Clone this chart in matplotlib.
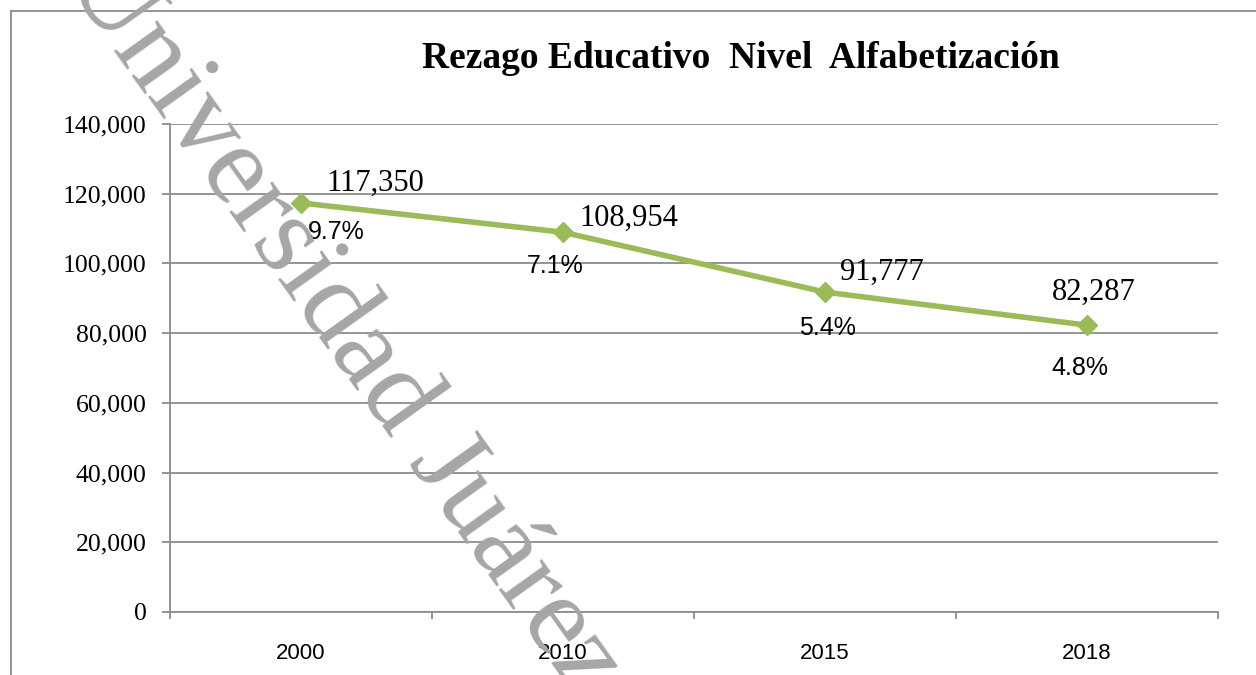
import numpy as np
import matplotlib.pyplot as plt
from matplotlib.lines import Line2D
from matplotlib.ticker import FuncFormatter, FixedLocator

# data
years = ['2000', '2010', '2015', '2018']
rezago = [117350, 108954, 91777, 82287]
pct_labels = ['9.7%', '7.1%', '5.4%', '4.8%']

# label offsets in pixels (x right, y down), hand placed like the original
value_offsets = [(74, -20), (66, -14), (57, -20), (7, -33)]
pct_offsets = [(35, 29), (-8, 34), (2, 36), (-7, 43)]

serif = 'Liberation Serif'
sans = 'Liberation Sans'
green = '#9BBB59'
grid_gray = '#8C8C8C'

fig = plt.figure(figsize=(12.56, 6.75), dpi=100)
ax = fig.add_axes([170 / 1256, 1 - 612 / 675, (1218 - 170) / 1256, (612 - 124) / 675])

x = np.arange(len(years))
ax.plot(x, rezago, color=green, linewidth=4, marker='D', markersize=10,
        markerfacecolor=green, markeredgecolor=green, zorder=4, clip_on=False)

px = 0.72  # pixels -> points at 100 dpi
for i, (v, p) in enumerate(zip(rezago, pct_labels)):
    dx, dy = value_offsets[i]
    ax.annotate(f'{v:,}', (x[i], v), xytext=(dx * px, -dy * px), textcoords='offset points',
                ha='center', va='center', fontsize=22, family=serif, zorder=5)
    dx, dy = pct_offsets[i]
    ax.annotate(p, (x[i], v), xytext=(dx * px, -dy * px), textcoords='offset points',
                ha='center', va='center', fontsize=18, family=sans, zorder=5)

# axes
ax.set_ylim(0, 140000)
ax.set_yticks(np.arange(0, 140001, 20000))
ax.yaxis.set_major_formatter(FuncFormatter(lambda v, _: f'{v:,.0f}'))
ax.set_xlim(-0.5, len(years) - 0.5)
ax.xaxis.set_major_locator(FixedLocator(np.arange(-0.5, len(years), 1.0)))
ax.xaxis.set_minor_locator(FixedLocator(x))
ax.set_xticklabels([], minor=False)
ax.set_xticklabels(years, minor=True)

ax.grid(axis='y', color=grid_gray, linewidth=1.3)
ax.set_axisbelow(True)
for s in ['top', 'right']:
    ax.spines[s].set_visible(False)
for s in ['left', 'bottom']:
    ax.spines[s].set_color(grid_gray)
    ax.spines[s].set_linewidth(1.3)

ax.tick_params(axis='y', which='major', length=6, width=1.3, color=grid_gray, pad=11,
               labelsize=18.5)
ax.tick_params(axis='x', which='major', length=5, width=1.3, color=grid_gray, direction='out')
ax.tick_params(axis='x', which='minor', length=0, pad=22, labelsize=16)
for lab in ax.get_yticklabels():
    lab.set_family(serif)
for lab in ax.get_xticklabels(minor=True):
    lab.set_family(sans)

# title
fig.text(741 / 1256, 1 - 58 / 675, 'Rezago Educativo  Nivel  Alfabetización',
         ha='center', va='center', fontsize=27, fontweight='bold', family=serif)

# outer chart frame (only top and left edges fall inside the picture)
fig.add_artist(Line2D([11 / 1256, 1.0], [1 - 11 / 675, 1 - 11 / 675],
                      transform=fig.transFigure, color=grid_gray, linewidth=1.3))
fig.add_artist(Line2D([11 / 1256, 11 / 1256], [0.0, 1 - 11 / 675],
                      transform=fig.transFigure, color=grid_gray, linewidth=1.3))

# watermark
fig.text(64 / 1256, 1 + 20 / 675, 'Universidad Juárez', transform=fig.transFigure,
         rotation=-54.5, rotation_mode='anchor', ha='left', va='baseline',
         fontsize=83, family=serif, color='#A6A6A6', zorder=10)

fig.savefig('out.png', dpi=100)
